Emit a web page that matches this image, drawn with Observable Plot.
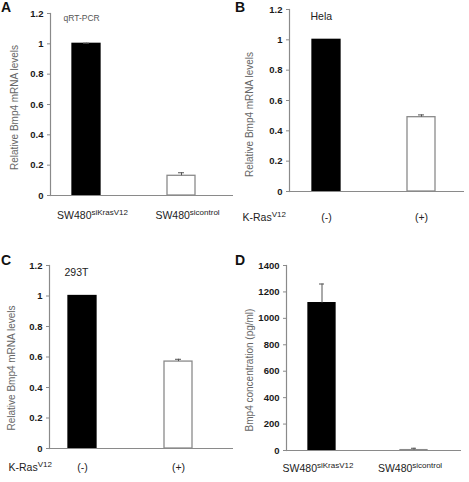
<!DOCTYPE html>
<html><head><meta charset="utf-8">
<script src="https://cdn.jsdelivr.net/npm/d3@7"></script>
<script src="https://cdn.jsdelivr.net/npm/@observablehq/plot@0.6"></script>
<style>
body{margin:0;background:#fff;}
#wrap{position:relative;width:469px;height:482px;overflow:hidden;font-family:"Liberation Sans",Arial,sans-serif;}
.panel{position:absolute;}
.letter{position:absolute;font-weight:bold;font-size:14px;line-height:14px;color:#111;}
</style></head><body><div id="wrap"></div>
<script>
// ---- data ----
const panelLetters = ["A", "B", "C", "D"];
const aCategories = ["SW480^siKrasV12", "SW480^sicontrol"];
const aValues = [1.0, 0.13];
const aErrors = [0.004, 0.02];
const bCategories = ["(-)", "(+)"];
const bValues = [1.0, 0.49];
const bErrors = [0, 0.015];
const cCategories = ["(-)", "(+)"];
const cValues = [1.0, 0.57];
const cErrors = [0, 0.015];
const dCategories = ["SW480^siKrasV12", "SW480^sicontrol"];
const dValues = [1115, 3];
const dErrors = [145, 14];
const relTicks = [0, 0.2, 0.4, 0.6, 0.8, 1, 1.2];
const concTicks = [0, 200, 400, 600, 800, 1000, 1200, 1400];
const relLabel = "Relative Bmp4 mRNA levels";
const concLabel = "Bmp4 concentration (pg/ml)";
const rowLabel = "K-Ras^V12";
const titles = ["qRT-PCR", "Hela", "293T", null];

// ---- styles ----
const FONT = "Liberation Sans, Arial, sans-serif";
const FILLS = ["#000", "#fff"];
const STROKES = ["#000", "#8a8a8a"];
const AXIS = "#8a8a8a";
const ERR = "#555";
const NS = "http://www.w3.org/2000/svg";

function addSup(svg, label, sups) {
  svg.querySelectorAll(`g[aria-description="${label}"] text`).forEach((t, i) => {
    const s = sups[i];
    if (!s) return;
    const ts = document.createElementNS(NS, "tspan");
    ts.setAttribute("dy", "-4");
    ts.setAttribute("font-size", "8");
    ts.textContent = s;
    t.appendChild(ts);
  });
}

function panel(cfg) {
  const data = cfg.cats.map((c, i) => ({cat: c, val: cfg.vals[i], err: cfg.errs[i]}));
  const errData = data.filter(d => d.err > 0);
  const marks = [
    Plot.barY(data, {x: "cat", y: "val", fill: (d, i) => FILLS[i], stroke: (d, i) => STROKES[i], strokeWidth: 1.3}),
    Plot.ruleX(errData, {x: "cat", y1: "val", y2: d => d.val + d.err, stroke: ERR}),
    Plot.tickY(errData, {x: "cat", y: d => d.val + d.err, insetLeft: 11, insetRight: 11, stroke: ERR}),
    Plot.ruleY([0], {stroke: AXIS, strokeWidth: 1.2}),
    Plot.frame({anchor: "left", stroke: AXIS, strokeWidth: 1.2}),
    Plot.axisY({ticks: cfg.ticks, tickFormat: d => String(d), tickSize: 3, tickPadding: 4,
      fontSize: 9.5, fontWeight: "bold", fill: "#1a1a1a", stroke: AXIS, label: null}),
    Plot.text([cfg.yLabel], {frameAnchor: "left", textAnchor: "middle", rotate: -90, dx: cfg.ylDx, dy: cfg.ylDy, fontSize: 10, fill: "#666"}),
    Plot.text(data, {x: "cat", text: d => d.cat.split("^")[0], frameAnchor: "bottom", dy: cfg.catDy, dx: cfg.catDx,
      fontSize: 10.5, fill: "#222", ariaDescription: "catlabels"})
  ];
  if (cfg.title) marks.push(Plot.text([cfg.title], {frameAnchor: "top-left", textAnchor: "start",
    dx: cfg.titleDx, dy: cfg.titleDy, fontSize: cfg.titleSize, fill: cfg.titleColor}));
  if (cfg.row) marks.push(Plot.text([cfg.row.split("^")[0]], {frameAnchor: "bottom-left", textAnchor: "start",
    dx: cfg.rowDx, dy: cfg.catDy, fontSize: 10.5, fill: "#222", ariaDescription: "rowlabel"}));
  const svg = Plot.plot({
    width: cfg.w, height: 241,
    marginLeft: cfg.ml, marginRight: cfg.mr, marginTop: cfg.mt, marginBottom: cfg.mb,
    style: {fontFamily: FONT, background: "transparent", overflow: "visible"},
    x: {domain: cfg.cats, range: cfg.xRange, paddingInner: 0.708, paddingOuter: 0, axis: null},
    y: {domain: cfg.yDomain},
    color: {type: "identity"},
    marks
  });
  addSup(svg, "catlabels", cfg.cats.map(c => c.split("^")[1]));
  if (cfg.row) addSup(svg, "rowlabel", [cfg.row.split("^")[1]]);
  const div = document.createElement("div");
  div.className = "panel";
  div.style.left = cfg.left + "px";
  div.style.top = cfg.top + "px";
  div.appendChild(svg);
  document.getElementById("wrap").appendChild(div);
  const L = document.createElement("div");
  L.className = "letter";
  L.textContent = cfg.letter;
  L.style.left = (cfg.left + 1) + "px";
  L.style.top = (cfg.top + cfg.letterTop) + "px";
  document.getElementById("wrap").appendChild(L);
}

panel({letter: panelLetters[0], left: 0, top: 0, letterTop: 0, w: 234, ml: 50, mr: 1, mt: 13, mb: 46,
  cats: aCategories, vals: aValues, errs: aErrors, xRange: [71, 195], yDomain: [0, 1.2], ticks: relTicks,
  yLabel: relLabel, ylDx: -36, ylDy: 3, catDy: 23, catDx: 6,
  title: titles[0], titleDx: 13, titleDy: 1, titleSize: 8.5, titleColor: "#555"});
panel({letter: panelLetters[1], left: 234, top: 0, letterTop: 0, w: 235, ml: 55, mr: 5, mt: 9, mb: 50,
  cats: bCategories, vals: bValues, errs: bErrors, xRange: [77, 201], yDomain: [0, 1.2], ticks: relTicks,
  yLabel: relLabel, ylDx: -40, ylDy: 14, catDy: 29, catDx: 0,
  title: titles[1], titleDx: 21, titleDy: 3, titleSize: 10.5, titleColor: "#222", row: rowLabel, rowDx: -47});
panel({letter: panelLetters[2], left: 0, top: 241, letterTop: 12, w: 234, ml: 49, mr: 1, mt: 24, mb: 34,
  cats: cCategories, vals: cValues, errs: cErrors, xRange: [68, 193], yDomain: [0, 1.2], ticks: relTicks,
  yLabel: relLabel, ylDx: -38, ylDy: 11, catDy: 22, catDx: 0,
  title: titles[2], titleDx: 15, titleDy: 3, titleSize: 10.5, titleColor: "#222", row: rowLabel, rowDx: -41});
panel({letter: panelLetters[3], left: 234, top: 241, letterTop: 12, w: 235, ml: 52, mr: 8, mt: 24, mb: 32,
  cats: dCategories, vals: dValues, errs: dErrors, xRange: [73, 193], yDomain: [0, 1400], ticks: concTicks,
  yLabel: concLabel, ylDx: -37, ylDy: 12, catDy: 21, catDx: -4,
  title: titles[3]});
</script>
</body></html>
